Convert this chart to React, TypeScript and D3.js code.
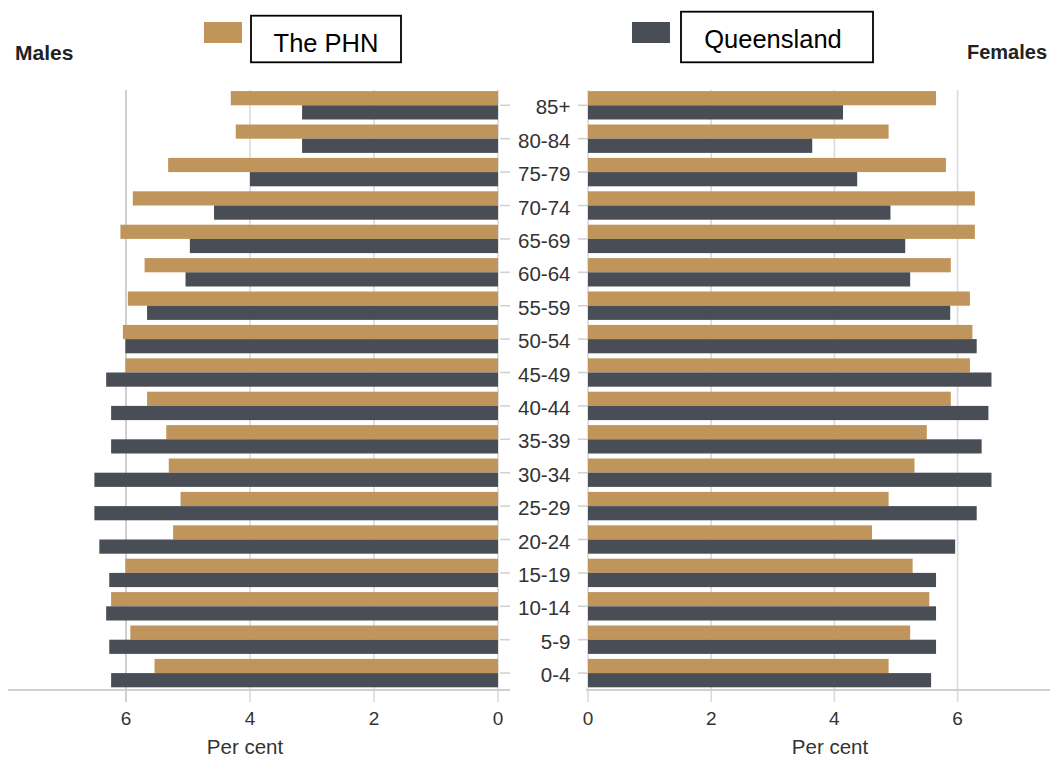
import React from "react";
import * as d3 from "d3";

const ageGroups = ["85+", "80-84", "75-79", "70-74", "65-69", "60-64", "55-59", "50-54", "45-49", "40-44", "35-39", "30-34", "25-29", "20-24", "15-19", "10-14", "5-9", "0-4"];
const malesPHN = [4.31, 4.23, 5.32, 5.89, 6.09, 5.70, 5.97, 6.05, 6.01, 5.66, 5.35, 5.31, 5.12, 5.24, 6.01, 6.24, 5.93, 5.54];
const malesQLD = [3.16, 3.16, 4.0, 4.58, 4.97, 5.04, 5.66, 6.01, 6.32, 6.24, 6.24, 6.51, 6.51, 6.43, 6.27, 6.32, 6.27, 6.24];
const femalesPHN = [5.65, 4.88, 5.81, 6.28, 6.28, 5.89, 6.20, 6.24, 6.20, 5.89, 5.50, 5.30, 4.88, 4.61, 5.27, 5.54, 5.23, 4.88];
const femalesQLD = [4.14, 3.64, 4.37, 4.91, 5.15, 5.23, 5.88, 6.31, 6.55, 6.50, 6.39, 6.55, 6.31, 5.96, 5.65, 5.65, 5.65, 5.57];
const xTicks = [0, 2, 4, 6];
const seriesKeys = ["phn", "qld"];
const seriesNames = ["The PHN", "Queensland"];
const seriesColors = ["#BF955B", "#494D55"];

const FONT = "'Liberation Sans', Arial, Helvetica, sans-serif";

export default function App() {
  const W = 1050;
  const H = 758;
  const y = d3.scaleBand<string>().domain(ageGroups).range([88.6, 689.8]).paddingInner(0.15).paddingOuter(0.075);
  const sub = d3.scaleBand<string>().domain(seriesKeys).range([0, y.bandwidth()]);
  const xL = d3.scaleLinear().domain([0, 8]).range([498, 2]);
  const xR = d3.scaleLinear().domain([0, 8]).range([588, 1080.8]);
  const axisY = 690;
  const gridTop = 90;
  const gridBottom = 702;
  const maleSeries = [malesPHN, malesQLD];
  const femaleSeries = [femalesPHN, femalesQLD];

  return (
    <svg width={W} height={H} style={{ position: "absolute", left: 0, top: 0, background: "#fff" }} fontFamily={FONT}>
      <rect x={0} y={0} width={W} height={H} fill="#fff" />
      {/* gridlines */}
      {xTicks.map((t) => (
        <line key={"gl" + t} x1={xL(t)} x2={xL(t)} y1={gridTop} y2={gridBottom} stroke={t === 6 ? "#c4c4c4" : "#dadada"} strokeWidth={1.6} />
      ))}
      {xTicks.map((t) => (
        <line key={"gr" + t} x1={xR(t)} x2={xR(t)} y1={gridTop} y2={gridBottom} stroke="#dadada" strokeWidth={1.6} />
      ))}
      {/* category ticks */}
      {ageGroups.map((g) => {
        const c = (y(g) as number) + y.bandwidth() / 2;
        return (
          <g key={"t" + g}>
            <line x1={500} x2={510} y1={c} y2={c} stroke="#d0d0d0" strokeWidth={1.5} />
            <line x1={578} x2={588} y1={c} y2={c} stroke="#d0d0d0" strokeWidth={1.5} />
            <text x={570.5} y={c} dy="0.44em" textAnchor="end" fontSize={20.5} fill="#333">{g}</text>
          </g>
        );
      })}
      {/* male bars */}
      {maleSeries.map((vals, si) =>
        vals.map((v, i) => (
          <rect key={"m" + si + i} x={xL(v)} y={(y(ageGroups[i]) as number) + (sub(seriesKeys[si]) as number)} width={xL(0) - xL(v)} height={sub.bandwidth()} fill={seriesColors[si]} />
        ))
      )}
      {/* female bars */}
      {femaleSeries.map((vals, si) =>
        vals.map((v, i) => (
          <rect key={"f" + si + i} x={xR(0)} y={(y(ageGroups[i]) as number) + (sub(seriesKeys[si]) as number)} width={xR(v) - xR(0)} height={sub.bandwidth()} fill={seriesColors[si]} />
        ))
      )}
      {/* axis lines */}
      <line x1={8} x2={510} y1={axisY} y2={axisY} stroke="#d0d0d0" strokeWidth={2} />
      <line x1={586} x2={W} y1={axisY} y2={axisY} stroke="#d0d0d0" strokeWidth={2} />
      {/* tick labels */}
      {xTicks.map((t) => (
        <text key={"lt" + t} x={xL(t)} y={725} textAnchor="middle" fontSize={19} fill="#333">{t}</text>
      ))}
      {xTicks.map((t) => (
        <text key={"rt" + t} x={xR(t)} y={725} textAnchor="middle" fontSize={19} fill="#333">{t}</text>
      ))}
      <text x={245} y={754} textAnchor="middle" fontSize={20.5} fill="#333">Per cent</text>
      <text x={830} y={754} textAnchor="middle" fontSize={20.5} fill="#333">Per cent</text>
      {/* panel titles */}
      <text x={15} y={60} fontSize={21} fontWeight="bold" fill="#222">Males</text>
      <text x={967} y={59} fontSize={20} fontWeight="bold" fill="#222">Females</text>
      {/* legend */}
      <rect x={204} y={22} width={38} height={21} fill={seriesColors[0]} />
      <rect x={251} y={15.7} width={150} height={46.6} fill="#fff" stroke="#000" strokeWidth={1.8} />
      <text x={326} y={51.7} textAnchor="middle" fontSize={25.5} fill="#000">{seriesNames[0]}</text>
      <rect x={632} y={22} width={38} height={21} fill={seriesColors[1]} />
      <rect x={681} y={11.7} width={192} height={50.6} fill="#fff" stroke="#000" strokeWidth={1.8} />
      <text x={773} y={48.3} textAnchor="middle" fontSize={25.5} fill="#000">{seriesNames[1]}</text>
    </svg>
  );
}
